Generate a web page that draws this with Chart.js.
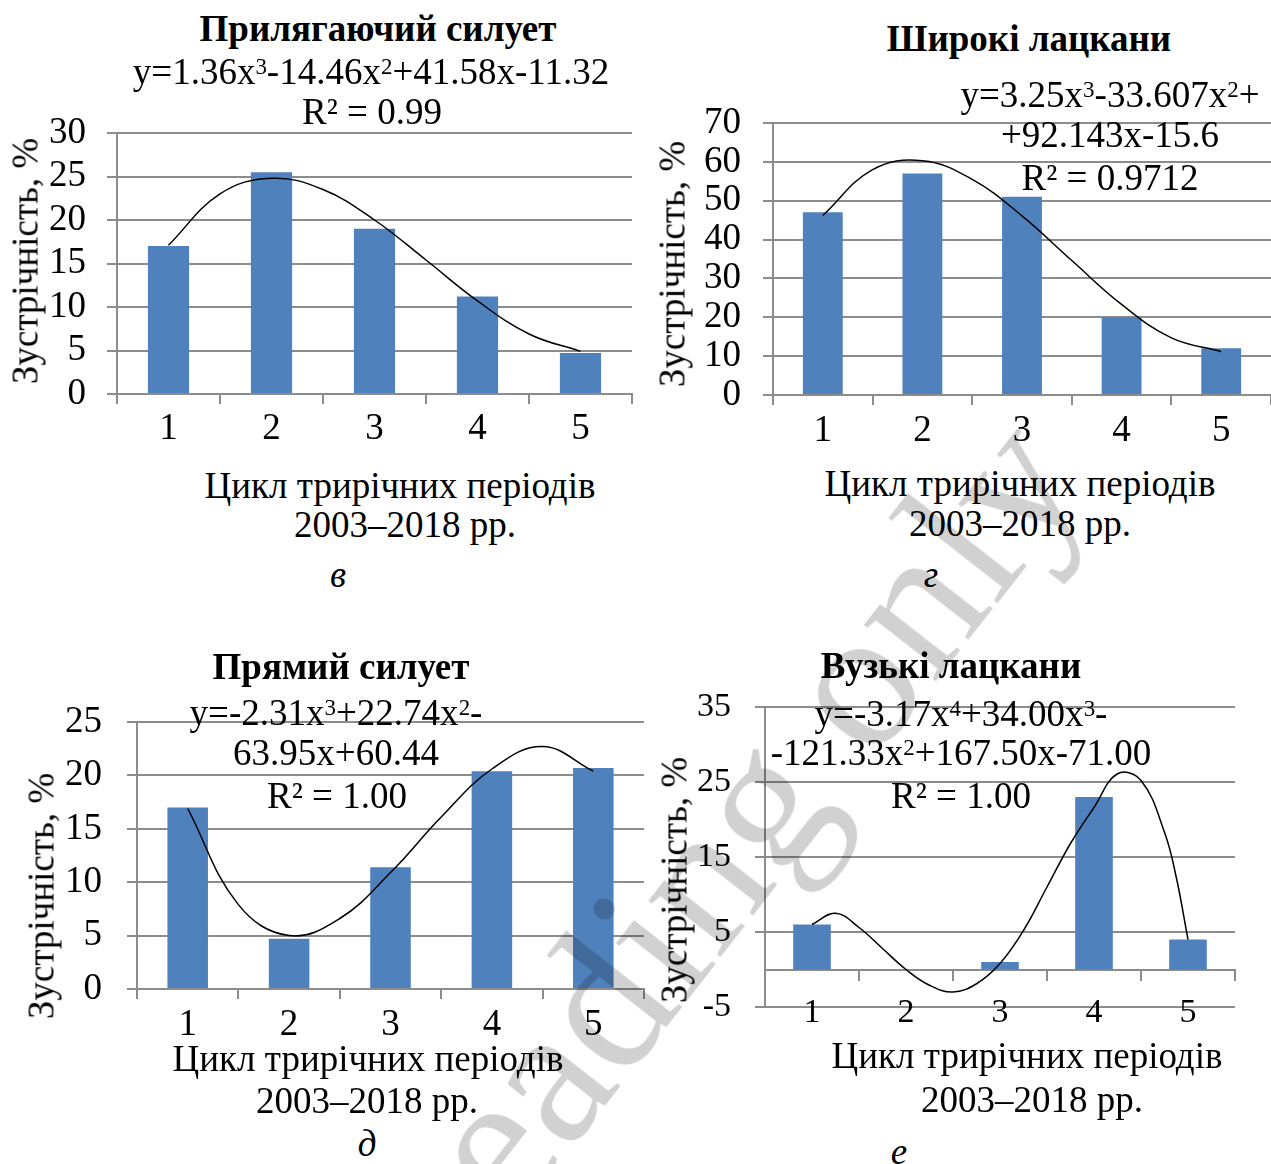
<!DOCTYPE html>
<html lang="uk">
<head>
<meta charset="utf-8">
<title>Зустрічність ознак, 2003–2018 рр.</title>
<script src="https://cdn.jsdelivr.net/npm/chart.js@4.4.1/dist/chart.umd.min.js"></script>
<style>
  html, body { margin: 0; padding: 0; background: #fff; }
  #page {
    position: relative; width: 1271px; height: 1164px; overflow: hidden; background: #fff;
    font-family: "Liberation Serif", "Times New Roman", serif; color: #000;
  }
  #page canvas { position: absolute; }
  .t {
    position: absolute; transform: translate(-50%, -50%);
    white-space: nowrap; font-size: 37px; line-height: 1;
  }
  .t sup { font-size: 0.62em; position: relative; top: -0.42em; vertical-align: baseline; line-height: 0; }
  .b { font-weight: bold; }
  .i { font-style: italic; }
  .yt {
    position: absolute; transform: translate(-50%, -50%) rotate(-90deg);
    white-space: nowrap; font-size: 37px; line-height: 1;
  }
  .wm {
    position: absolute; left: 708px; top: 865px;
    transform: translate(-50%, -50%) rotate(-52deg);
    white-space: nowrap; font-size: 200px; line-height: 1;
    color: rgba(0, 0, 0, 0.18); pointer-events: none; z-index: 10;
  }
</style>
</head>
<body>
<div id="page">
  <canvas id="c1" width="640" height="370" style="left:0;top:80px"></canvas>
  <canvas id="c2" width="626" height="380" style="left:645px;top:70px"></canvas>
  <canvas id="c3" width="650" height="380" style="left:0;top:665px"></canvas>
  <canvas id="c4" width="621" height="410" style="left:650px;top:650px"></canvas>

  <!-- в -->
  <div class="t b" style="left:378px;top:28px">Прилягаючий силует</div>
  <div class="t" style="left:371px;top:71px">y=1.36x<sup>3</sup>-14.46x<sup>2</sup>+41.58x-11.32</div>
  <div class="t" style="left:372px;top:111px">R² = 0.99</div>
  <div class="yt" style="left:25px;top:261px">Зустрічність, %</div>
  <div class="t" style="left:400px;top:485px">Цикл трирічних періодів</div>
  <div class="t" style="left:405px;top:524px">2003–2018 рр.</div>
  <div class="t i" style="left:338px;top:574px">в</div>

  <!-- г -->
  <div class="t b" style="left:1029px;top:38px">Широкі лацкани</div>
  <div class="t" style="left:1110px;top:94px">y=3.25x<sup>3</sup>-33.607x<sup>2</sup>+</div>
  <div class="t" style="left:1110px;top:134px">+92.143x-15.6</div>
  <div class="t" style="left:1110px;top:177px">R² = 0.9712</div>
  <div class="yt" style="left:672px;top:264px">Зустрічність, %</div>
  <div class="t" style="left:1020px;top:483px">Цикл трирічних періодів</div>
  <div class="t" style="left:1020px;top:523px">2003–2018 рр.</div>
  <div class="t i" style="left:931px;top:574px">г</div>

  <!-- д -->
  <div class="t b" style="left:341px;top:666px">Прямий силует</div>
  <div class="t" style="left:336px;top:712px">y=-2.31x<sup>3</sup>+22.74x<sup>2</sup>-</div>
  <div class="t" style="left:336px;top:752px">63.95x+60.44</div>
  <div class="t" style="left:337px;top:795px">R² = 1.00</div>
  <div class="yt" style="left:41px;top:896px">Зустрічність, %</div>
  <div class="t" style="left:368px;top:1058px">Цикл трирічних періодів</div>
  <div class="t" style="left:367px;top:1100px">2003–2018 рр.</div>
  <div class="t i" style="left:367px;top:1143px">д</div>

  <!-- е -->
  <div class="t b" style="left:951px;top:665px">Вузькі лацкани</div>
  <div class="t" style="left:961px;top:713px">y=-3.17x<sup>4</sup>+34.00x<sup>3</sup>-</div>
  <div class="t" style="left:961px;top:752px">-121.33x<sup>2</sup>+167.50x-71.00</div>
  <div class="t" style="left:961px;top:795px">R² = 1.00</div>
  <div class="yt" style="left:674px;top:880px">Зустрічність, %</div>
  <div class="t" style="left:1027px;top:1055px">Цикл трирічних періодів</div>
  <div class="t" style="left:1032px;top:1099px">2003–2018 рр.</div>
  <div class="t i" style="left:899px;top:1151px">е</div>

  <div class="wm">Reading only</div>
</div>

<script>
(function () {
  "use strict";

  // ── Data ───────────────────────────────────────────────────

  const cycles = ["1", "2", "3", "4", "5"];

  // Зустрічність, % (bars)
  const fittingSilhouette = [17, 25.5, 19, 11.2, 4.7];
  const wideLapels = [47, 57, 51, 20, 12];
  const straightSilhouette = [17, 4.7, 11.4, 20.4, 20.7];
  const narrowLapels = [6, 0, 1, 23, 4];

  // Trend lines (x = cycle number)
  const trendX = [1, 1.5, 2, 2.5, 3, 3.5, 4, 4.5, 5];
  const fittingTrend = [17.1, 23.0, 24.8, 23.5, 20.0, 15.4, 10.7, 6.9, 4.9];
  const wideTrend = [46.2, 58.0, 60.3, 55.5, 46.1, 34.6, 23.3, 14.7, 11.2];
  const straightTrend = [16.9, 7.9, 5.0, 6.6, 10.9, 16.1, 20.6, 22.7, 20.4];
  const narrowTrendX = [1, 1.25, 1.5, 1.75, 2, 2.25, 2.5, 2.75, 3, 3.25, 3.5, 3.75, 4, 4.25, 4.5, 4.75, 4.875, 5];
  const narrowTrend = [6.0, 7.5, 5.6, 2.8, 0, -2.1, -3.0, -1.9, 0.8, 5.2, 11.0, 16.8, 21.6, 26.1, 25.2, 18.3, 12.3, 4.0];

  // Y tick labels
  const fittingTicks = [0, 5, 10, 15, 20, 25, 30];
  const wideTicks = [0, 10, 20, 30, 40, 50, 60, 70];
  const straightTicks = [0, 5, 10, 15, 20, 25];
  const narrowTicks = [-5, 5, 15, 25, 35];

  // ── Style ──────────────────────────────────────────────────

  const GRID = "#8c8c8c";
  const BAR = "#4f81bd";

  Chart.defaults.font.family = '"Liberation Serif", "Times New Roman", serif';
  Chart.defaults.font.size = 37;
  Chart.defaults.color = "#000";

  // ── Panels ─────────────────────────────────────────────────

  drawPanel("c1", fittingSilhouette, trendX, fittingTrend, fittingTicks,
    { yWidth: 117, top: 53, right: 8, xHeight: 56, yPad: 21, xPad: 3, font: 37 });
  drawPanel("c2", wideLapels, trendX, wideTrend, wideTicks,
    { yWidth: 128, top: 53, right: 0, xHeight: 55, yPad: 22, xPad: 4, font: 37 });
  drawPanel("c3", straightSilhouette, trendX, straightTrend, straightTicks,
    { yWidth: 137, top: 57, right: 6, xHeight: 56, yPad: 25, xPad: 4, font: 37 });
  drawPanel("c4", narrowLapels, narrowTrendX, narrowTrend, narrowTicks,
    { yWidth: 115, top: 57, right: 36, xHeight: 53, yPad: 24, xPad: -14, font: 34 });

  function drawPanel(id, bars, tx, ty, yTicks, box) {
    const crossesZero = yTicks[0] < 0;
    const tickFont = { size: box.font };
    const padding = { top: box.top, right: box.right, bottom: 0, left: 0 };

    const scales = {
      y: {
        min: yTicks[0],
        max: yTicks[yTicks.length - 1],
        ticks: { stepSize: yTicks[1] - yTicks[0], padding: box.yPad, autoSkip: false, font: tickFont },
        grid: { color: GRID, lineWidth: 2, tickLength: 10 },
        border: { display: true, color: GRID, width: 2 },
        afterFit: (s) => { s.width = box.yWidth; },
      },
    };

    if (crossesZero) {
      // axis line at 0 with tick marks, labels kept at the low end
      scales.x = {
        type: "category",
        position: { y: 0 },
        ticks: { display: false },
        grid: { color: GRID, lineWidth: 2, tickLength: 10, drawOnChartArea: false },
        border: { display: true, color: GRID, width: 2 },
      };
      scales.xb = {
        type: "category",
        position: { y: yTicks[0] },
        grid: { display: false, drawTicks: false },
        border: { display: false },
        ticks: { padding: box.xPad, autoSkip: false, font: tickFont },
      };
      padding.bottom = box.xHeight;
    } else {
      scales.x = {
        type: "category",
        position: "bottom",
        grid: { color: GRID, lineWidth: 2, tickLength: 10, drawOnChartArea: false },
        border: { display: true, color: GRID, width: 2 },
        ticks: { padding: box.xPad, autoSkip: false, font: tickFont },
        afterFit: (s) => { s.height = box.xHeight; },
      };
    }

    new Chart(document.getElementById(id), {
      type: "bar",
      data: {
        labels: cycles,
        datasets: [
          {
            type: "line",
            // category index: cycle 1 sits at index 0
            data: tx.map((x, i) => ({ x: x - 1, y: ty[i] })),
            parsing: false,
            xAxisID: "x",
            yAxisID: "y",
            borderColor: "#000",
            borderWidth: 1.5,
            pointRadius: 0,
            tension: 0.4,
            fill: false,
            order: 0,
          },
          {
            type: "bar",
            data: bars,
            xAxisID: "x",
            yAxisID: "y",
            backgroundColor: BAR,
            borderWidth: 0,
            grouped: false,
            barPercentage: 0.4,
            categoryPercentage: 1,
            order: 1,
          },
        ],
      },
      options: {
        responsive: false,
        animation: false,
        layout: { padding: padding },
        plugins: { legend: { display: false }, tooltip: { enabled: false } },
        scales: scales,
      },
    });
  }
})();
</script>
</body>
</html>
